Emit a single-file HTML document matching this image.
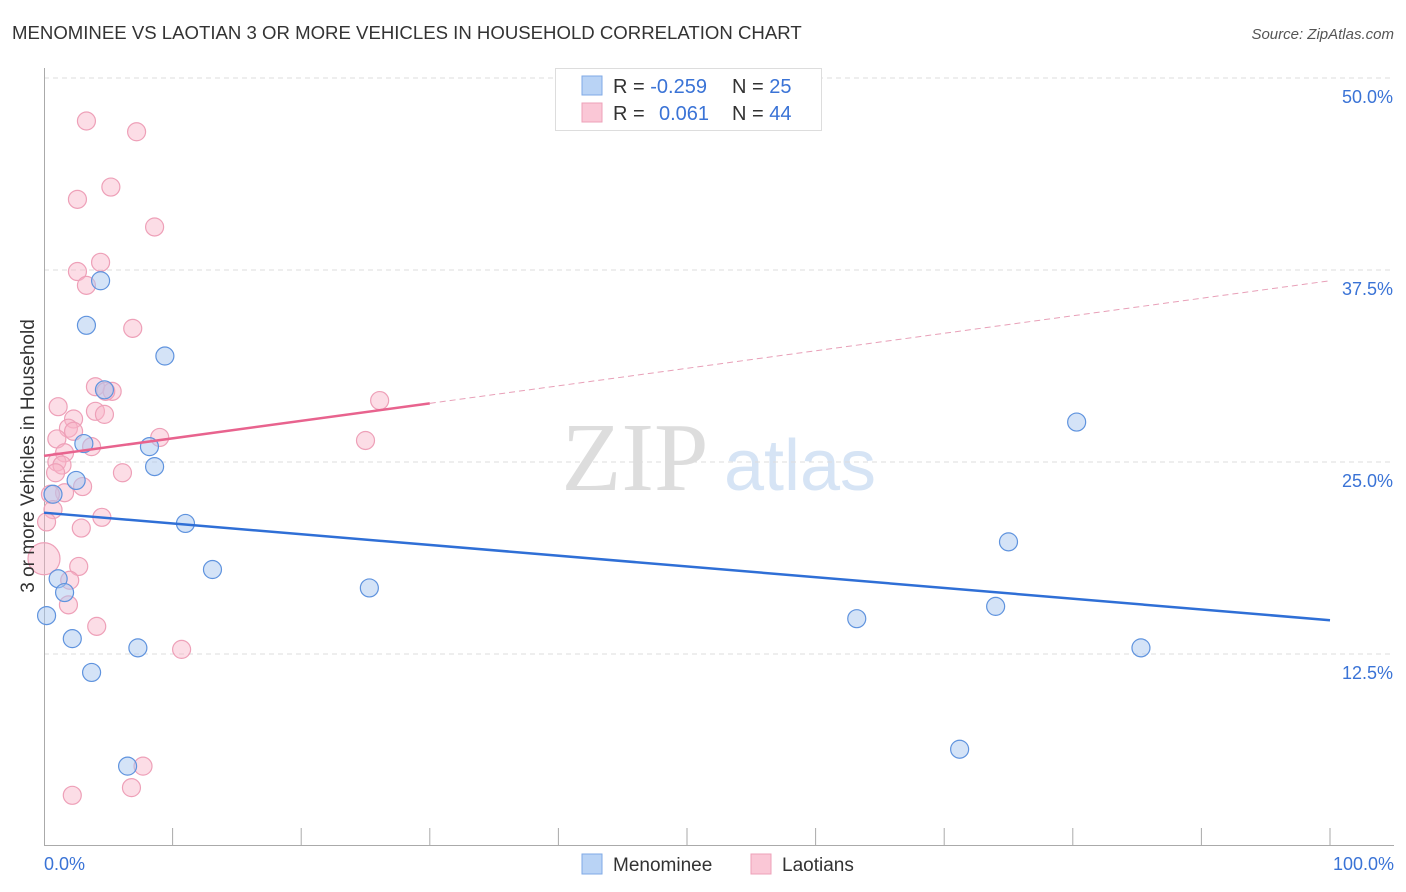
<!DOCTYPE html>
<html><head><meta charset="utf-8">
<style>
body{margin:0;background:#fff;font-family:"Liberation Sans",sans-serif;}
#wrap{position:relative;width:1406px;height:892px;overflow:hidden;}
</style></head><body>
<div id="wrap">
<svg id="svg" width="1406" height="892" xmlns="http://www.w3.org/2000/svg">
<text x="12" y="39" font-size="18.6" fill="#333">MENOMINEE VS LAOTIAN 3 OR MORE VEHICLES IN HOUSEHOLD CORRELATION CHART</text>
<text x="1394" y="39" font-size="15" fill="#555" font-style="italic" text-anchor="end">Source: ZipAtlas.com</text>
<text x="635" y="490" font-size="98" fill="#ddd" font-family="Liberation Serif,serif" text-anchor="middle">ZIP</text>
<text x="800" y="490" font-size="72" fill="#d6e4f5" text-anchor="middle">atlas</text>
<g id="grid"></g><g id="axes"></g><g id="pts"></g><g id="lines"></g>
<text transform="translate(34,456) rotate(-90)" font-size="19" fill="#333" text-anchor="middle">3 or more Vehicles in Household</text>
<g>
<rect x="555.5" y="68.5" width="266" height="62" fill="#fff" stroke="#ddd"/>
<rect x="582" y="76" width="20" height="19" fill="#b9d3f5" stroke="#7faae6"/>
<rect x="582" y="103" width="20" height="19" fill="#fac7d6" stroke="#eea0b8"/>
<text x="613" y="93" font-size="20" fill="#333">R = <tspan fill="#3a73d6">-0.259</tspan></text>
<text x="732" y="93" font-size="20" fill="#333">N = <tspan fill="#3a73d6"> 25</tspan></text>
<text x="613" y="120" font-size="20" fill="#333">R =</text>
<text x="659" y="120" font-size="20" fill="#3a73d6">0.061</text>
<text x="732" y="120" font-size="20" fill="#333">N = <tspan fill="#3a73d6">44</tspan></text>
</g>
<g>
<rect x="582" y="854" width="20" height="20" fill="#b9d3f5" stroke="#7faae6"/>
<text x="613" y="871" font-size="19" fill="#333">Menominee</text>
<rect x="751" y="854" width="20" height="20" fill="#fac7d6" stroke="#eea0b8"/>
<text x="782" y="871" font-size="19" fill="#333">Laotians</text>
</g>
</svg></div>
<script>
const blueX=[3.3,4.4,9.4,4.7,3.1,8.2,8.6,2.5,0.7,11.0,13.1,1.1,25.3,1.6,0.2,2.2,7.3,3.7,6.5,80.3,75.0,74.0,63.2,85.3,71.2];
const blueY=[33.9,36.8,31.9,29.7,26.2,26.0,24.7,23.8,22.9,21.0,18.0,17.4,16.8,16.5,15.0,13.5,12.9,11.3,5.2,27.6,19.8,15.6,14.8,12.9,6.3];
const pinkX=[3.3,7.2,5.2,2.6,8.6,4.4,2.6,3.3,6.9,4.0,5.3,1.1,26.1,4.0,4.7,2.3,1.9,2.3,1.0,9.0,25.0,3.7,1.6,1.0,1.4,0.9,6.1,3.0,1.6,0.5,0.7,0.2,4.5,2.9,0,2.7,2.0,1.9,4.1,10.7,7.7,6.8,2.2,4.8];
const pinkY=[47.2,46.5,42.9,42.1,40.3,38.0,37.4,36.5,33.7,29.9,29.6,28.6,29.0,28.3,28.1,27.8,27.2,27.0,26.5,26.6,26.4,26.0,25.6,25.0,24.8,24.3,24.3,23.4,23.0,22.9,21.9,21.1,21.4,20.7,18.7,18.2,17.3,15.7,14.3,12.8,5.2,3.8,3.3,29.6];
const yTicks=[12.5,25.0,37.5,50.0];
const blueTrend=[21.7,14.7];
const pinkTrend=[25.4,36.8];
const pinkSolidEnd=30;
const X=v=>44+v*12.86, Y=v=>846-v*15.36;
const NS="http://www.w3.org/2000/svg";
function mk(t,a,p){const e=document.createElementNS(NS,t);for(const k in a)e.setAttribute(k,a[k]);document.getElementById(p).appendChild(e);return e;}
yTicks.forEach(t=>{
 const g=mk('line',{x1:44,x2:1394,y1:Y(t),y2:Y(t),stroke:'#ddd','stroke-dasharray':'5,4'},'grid');
 
 
 const l=mk('text',{x:1393,y:Y(t)+25,'font-size':18,fill:'#3a73d6','text-anchor':'end'},'axes');
 l.textContent=t.toFixed(1)+'%';
 
 
});
mk('line',{x1:44.5,x2:44.5,y1:68,y2:846,stroke:'#aaa'},'axes');
mk('line',{x1:44,x2:1394,y1:845.5,y2:845.5,stroke:'#aaa'},'axes');
for(let i=1;i<=10;i++){mk('line',{x1:X(i*10),x2:X(i*10),y1:828,y2:846,stroke:'#aaa'},'axes');}
const x0=mk('text',{x:44,y:870,'font-size':18,fill:'#3a73d6'},'axes');x0.textContent='0.0%';


const x1=mk('text',{x:1394,y:870,'font-size':18,fill:'#3a73d6','text-anchor':'end'},'axes');x1.textContent='100.0%';


pinkX.forEach((v,i)=>{
 const c=mk('circle',{cx:X(v),cy:Y(pinkY[i]),r:i==34?16:9,fill:'rgba(248,180,200,0.45)',stroke:'#eea0b8','stroke-width':1.2},'pts');
 
 
});
blueX.forEach((v,i)=>{
 const c=mk('circle',{cx:X(v),cy:Y(blueY[i]),r:9,fill:'rgba(170,200,240,0.5)',stroke:'#5f93de','stroke-width':1.2},'pts');
 
 
});
const bl=mk('line',{x1:X(0),y1:Y(blueTrend[0]),x2:X(100),y2:Y(blueTrend[1]),stroke:'#2f6fd6','stroke-width':2.5},'lines');


const pm=pinkTrend[0]+(pinkTrend[1]-pinkTrend[0])*pinkSolidEnd/100;
const pl=mk('line',{x1:X(0),y1:Y(pinkTrend[0]),x2:X(pinkSolidEnd),y2:Y(pm),stroke:'#e8638e','stroke-width':2.5},'lines');


const pd=mk('line',{x1:X(pinkSolidEnd),y1:Y(pm),x2:X(100),y2:Y(pinkTrend[1]),stroke:'#e8a0b8','stroke-width':1,'stroke-dasharray':'6,4'},'lines');


</script>
</body></html>
